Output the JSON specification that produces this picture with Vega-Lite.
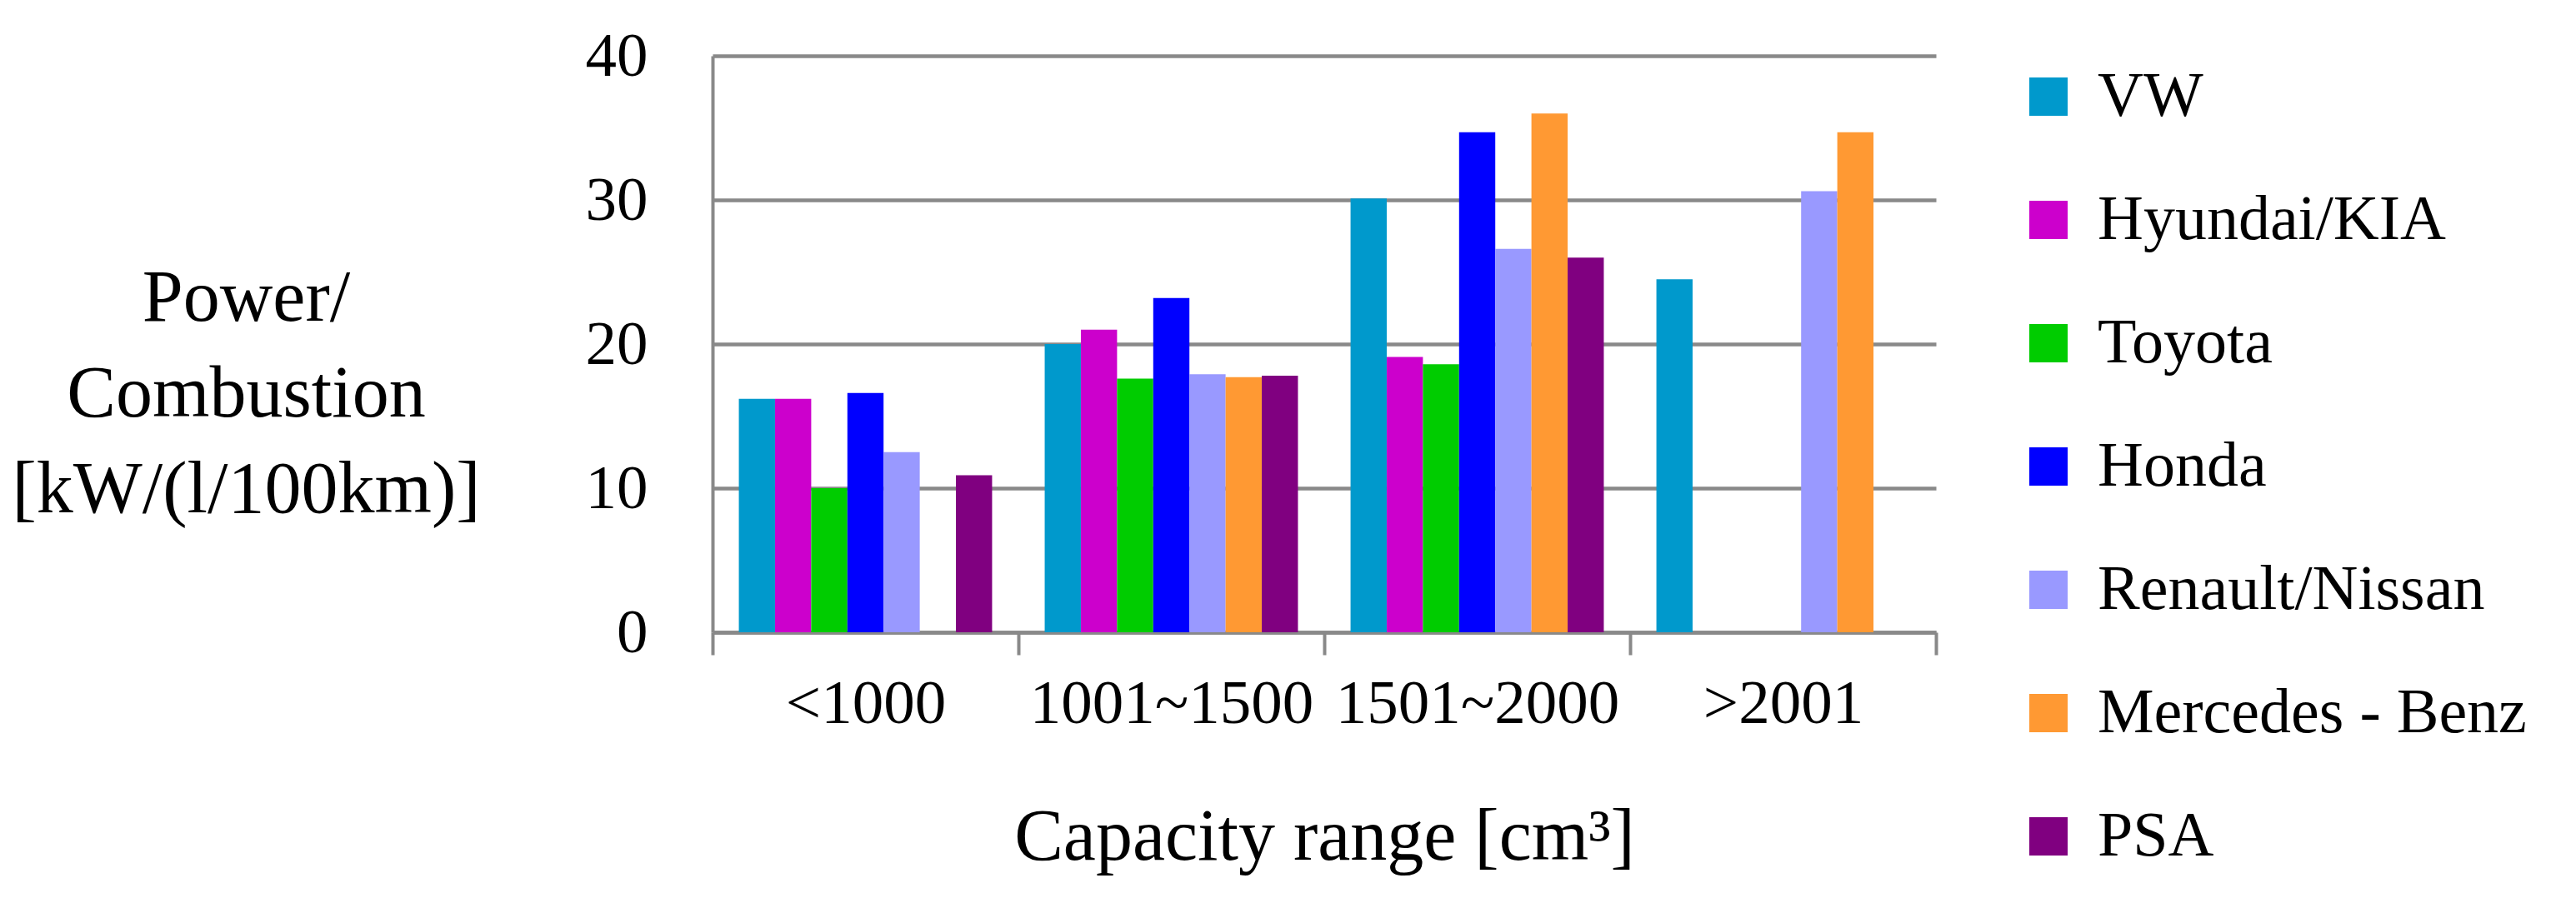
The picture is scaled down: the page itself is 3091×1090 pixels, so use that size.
{
  "$schema": "https://vega.github.io/schema/vega-lite/v6.json",
  "width": 1468,
  "height": 692,
  "autosize": {"type": "none"},
  "padding": {"left": 855, "top": 67, "right": 768, "bottom": 331},
  "config": {
    "font": "Liberation Serif",
    "view": {"stroke": null}
  },
  "data": {
    "values": [
      {"capacity": "<1000", "brand": "VW", "value": 16.2},
      {"capacity": "<1000", "brand": "Hyundai/KIA", "value": 16.2},
      {"capacity": "<1000", "brand": "Toyota", "value": 10.0},
      {"capacity": "<1000", "brand": "Honda", "value": 16.6},
      {"capacity": "<1000", "brand": "Renault/Nissan", "value": 12.5},
      {"capacity": "<1000", "brand": "PSA", "value": 10.9},
      {"capacity": "1001~1500", "brand": "VW", "value": 20.0},
      {"capacity": "1001~1500", "brand": "Hyundai/KIA", "value": 21.0},
      {"capacity": "1001~1500", "brand": "Toyota", "value": 17.6},
      {"capacity": "1001~1500", "brand": "Honda", "value": 23.2},
      {"capacity": "1001~1500", "brand": "Renault/Nissan", "value": 17.9},
      {"capacity": "1001~1500", "brand": "Mercedes - Benz", "value": 17.7},
      {"capacity": "1001~1500", "brand": "PSA", "value": 17.8},
      {"capacity": "1501~2000", "brand": "VW", "value": 30.1},
      {"capacity": "1501~2000", "brand": "Hyundai/KIA", "value": 19.1},
      {"capacity": "1501~2000", "brand": "Toyota", "value": 18.6},
      {"capacity": "1501~2000", "brand": "Honda", "value": 34.7},
      {"capacity": "1501~2000", "brand": "Renault/Nissan", "value": 26.6},
      {"capacity": "1501~2000", "brand": "Mercedes - Benz", "value": 36.0},
      {"capacity": "1501~2000", "brand": "PSA", "value": 26.0},
      {"capacity": ">2001", "brand": "VW", "value": 24.5},
      {"capacity": ">2001", "brand": "Renault/Nissan", "value": 30.6},
      {"capacity": ">2001", "brand": "Mercedes - Benz", "value": 34.7}
    ]
  },
  "mark": {"type": "bar"},
  "encoding": {
    "x": {
      "field": "capacity",
      "type": "nominal",
      "sort": ["<1000", "1001~1500", "1501~2000", ">2001"],
      "scale": {"paddingInner": 0, "paddingOuter": 0},
      "axis": {
        "title": "Capacity range [cm³]",
        "titleFontSize": 88,
        "titleFontWeight": "normal",
        "titleColor": "#000000",
        "titleBaseline": "alphabetic",
        "titleY": 272,
        "labelAngle": 0,
        "labelFontSize": 75,
        "labelColor": "#000000",
        "labelBaseline": "middle",
        "labelPadding": 58,
        "labelLimit": 0,
        "tickBand": "extent",
        "tickSize": 27,
        "tickWidth": 4,
        "tickColor": "#898989",
        "domainColor": "#898989",
        "domainWidth": 4.5
      }
    },
    "xOffset": {
      "field": "brand",
      "type": "nominal",
      "sort": ["VW", "Hyundai/KIA", "Toyota", "Honda", "Renault/Nissan", "Mercedes - Benz", "PSA"],
      "scale": {
        "domain": ["VW", "Hyundai/KIA", "Toyota", "Honda", "Renault/Nissan", "Mercedes - Benz", "PSA"],
        "paddingInner": 0,
        "paddingOuter": 0.727
      }
    },
    "y": {
      "field": "value",
      "type": "quantitative",
      "scale": {"domain": [0, 40]},
      "axis": {
        "values": [0, 10, 20, 30, 40],
        "title": ["Power/", "Combustion", "[kW/(l/100km)]"],
        "titleAngle": 0,
        "titleAlign": "center",
        "titleBaseline": "middle",
        "titleX": -560,
        "titleY": 291,
        "titleLineHeight": 115,
        "titleFontSize": 88,
        "titleFontWeight": "normal",
        "titleColor": "#000000",
        "labelFontSize": 75,
        "labelColor": "#000000",
        "labelPadding": 78,
        "ticks": false,
        "tickSize": 0,
        "grid": true,
        "gridColor": "#898989",
        "gridWidth": 4.5,
        "domainColor": "#898989",
        "domainWidth": 4
      }
    },
    "color": {
      "field": "brand",
      "type": "nominal",
      "scale": {
        "domain": ["VW", "Hyundai/KIA", "Toyota", "Honda", "Renault/Nissan", "Mercedes - Benz", "PSA"],
        "range": ["#0099CC", "#CC00CC", "#00CC00", "#0000FF", "#9999FF", "#FF9933", "#800080"]
      },
      "legend": {
        "title": null,
        "orient": "none",
        "legendX": 1565,
        "legendY": 11,
        "padding": 0,
        "symbolType": "square",
        "symbolSize": 2116,
        "symbolStrokeWidth": 0,
        "symbolOpacity": 1,
        "labelFontSize": 76,
        "labelColor": "#000000",
        "labelOffset": 21,
        "labelLimit": 0,
        "rowPadding": 72
      }
    }
  }
}
